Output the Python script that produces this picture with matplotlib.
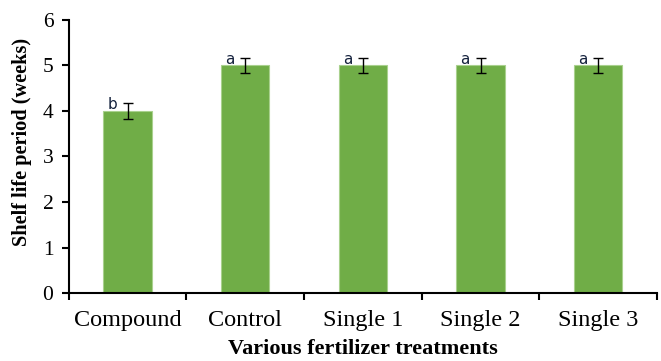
import numpy as np
import matplotlib.pyplot as plt

# Data
treatments = ['Compound', 'Control', 'Single 1', 'Single 2', 'Single 3']
shelf_life = [4, 5, 5, 5, 5]
errors = [0.17, 0.17, 0.17, 0.17, 0.17]
letters = ['b', 'a', 'a', 'a', 'a']

plt.rcParams['font.family'] = 'Liberation Serif'

fig = plt.figure(figsize=(6.61, 3.61), dpi=100)
ax = fig.add_axes([0.104, 0.188, 0.89, 0.757])

x = np.arange(len(treatments))
ax.bar(x, shelf_life, width=0.41, color='#70AD47', edgecolor='#A9D18E', linewidth=0.8, zorder=2)
ax.errorbar(x, shelf_life, yerr=errors, fmt='none', ecolor='black',
            elinewidth=1, capsize=3.6, capthick=1, zorder=3)

for xi, yi, lab in zip(x, shelf_life, letters):
    ax.text(xi - 0.13, yi - 0.03, lab, ha='center', va='bottom', fontsize=11,
            family='DejaVu Sans', color='#14213D', zorder=4)

ax.set_xlim(-0.5, len(treatments) - 0.5)
ax.set_ylim(0, 6)
ax.set_yticks(range(0, 7))

ax.set_xticks(x)
ax.set_xticklabels(treatments, fontsize=17.5)
ax.set_xticks(np.arange(-0.5, len(treatments)), minor=True)
ax.tick_params(axis='x', which='major', length=0, pad=12)
ax.tick_params(axis='x', which='minor', length=5, width=1.5, direction='out')
ax.tick_params(axis='y', labelsize=15.5, length=5, width=1.5, direction='out', pad=6)

for side in ['top', 'right']:
    ax.spines[side].set_visible(False)
for side in ['left', 'bottom']:
    ax.spines[side].set_linewidth(1.5)

ax.set_xlabel('Various fertilizer treatments', fontsize=16, fontweight='bold', labelpad=6)
ax.set_ylabel('Shelf life period (weeks)', fontsize=14.6, fontweight='bold')
ax.yaxis.set_label_coords(-0.063, 0.553)

plt.savefig('out.png', dpi=100)
